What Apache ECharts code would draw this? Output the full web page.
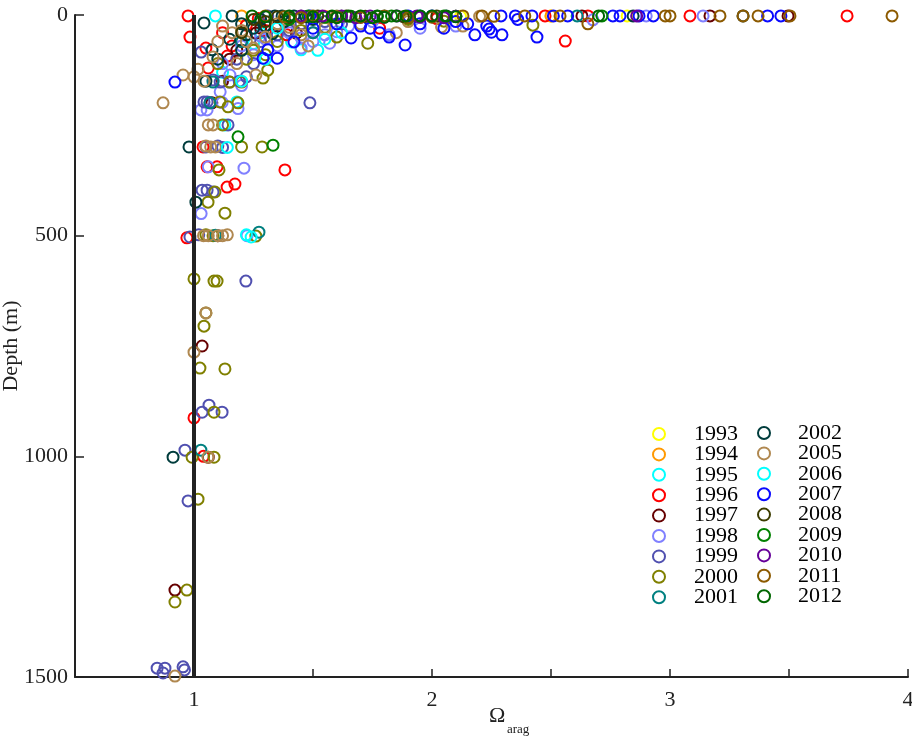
<!DOCTYPE html>
<html>
<head>
<meta charset="utf-8">
<script src="https://cdn.jsdelivr.net/npm/echarts@6/dist/echarts.min.js"></script>
<style>
  html, body { margin: 0; padding: 0; background: #fff; }
  #chart { width: 912px; height: 739px; }
</style>
</head>
<body>
<div id="chart"></div>
<script>
// Aragonite saturation state (x) against depth in metres (y), one series per survey year.
const years = ['1993','1994','1995','1996','1997','1998','1999','2000','2001',
               '2002','2005','2006','2007','2008','2009','2010','2011','2012'];

const colors = ['#ffff00','#ff9900','#00ffff','#ff0000','#660000','#8080ff','#5050b0','#808000','#008080',
                '#003c3c','#b08850','#00ffff','#0a0aff','#3c3c00','#008000','#660099','#8c5a00','#006600'];

const d1993 = [[2.82,2],[2.12,3],[2.5,2]];
const d1994 = [[1.2,2],[1.55,3],[2.5,2]];
const d1995 = [[1.09,2],[1.45,79],[1.52,80],[1.41,61],[1.18,197],[1.13,249],[1.6,3],[1.28,40],[1.12,130],
               [1.25,65]];
const d1996 = [[0.975,2],[0.983,50],[1.06,120],[1.22,23],[1.27,8],[1.39,45],[1.14,93],[1.16,70],[2.475,2],
               [2.655,2],[3.084,2],[3.744,2],[2.56,59],[1.382,351],[1.139,390],[1.172,383],[1.038,299],
               [1.055,344],[1.097,344],[0.97,505],[1.0,913],[1.04,1000],[1.78,30],[2.02,8],
               [1.12,40],[1.05,75],[1.3,35]];
const d1997 = [[3.168,2],[3.496,2],[2.63,2],[1.26,41],[1.28,30],[1.43,41],[1.075,199],[1.12,150],
               [1.034,750],[1.06,1002],[0.92,1303],[1.1,500],[1.7,5],[1.15,100],[1.2,60],[1.18,80],[1.35,25]];
const d1998 = [[3.139,2],[2.676,11],[2.9,2],[1.4,40],[1.45,52],[1.5,60],[1.55,45],[1.57,64],[1.35,70],
               [1.25,90],[1.151,136],[1.11,174],[1.185,212],[1.21,347],[1.029,215],[1.055,215],[1.118,198],
               [1.223,500],[1.06,344],[1.03,450],[1.82,45],[1.95,30],[2.1,25],[1.3,55],[1.2,160],[1.75,15],
               [1.2,70],[1.28,48],[1.65,25],[1.6,38],[1.12,110],[1.45,75]];
const d1999 = [[1.31,2],[1.55,15],[1.03,84],[1.08,147],[1.11,152],[1.15,152],[1.19,150],[1.22,140],
               [1.042,197],[1.055,197],[1.067,199],[1.487,199],[1.143,249],[1.05,299],[1.1,297],[1.12,300],
               [1.034,397],[1.055,397],[1.08,401],[0.983,503],[1.02,498],[1.218,603],[1.063,884],[1.034,900],
               [1.118,900],[0.962,986],[0.975,1101],[0.845,1480],[0.878,1480],[0.87,1491],[0.954,1477],
               [0.96,1484],[1.28,60],[1.4,35],[1.18,100],[1.25,110],[1.35,45],[1.5,40],[1.62,20],[1.45,20]];
const d2000 = [[1.286,299],[1.2,299],[1.26,501],[1.08,500],[1.05,498],[1.0,598],[1.084,603],[1.097,603],
               [1.05,675],[1.042,705],[1.025,800],[1.13,802],[1.084,900],[0.992,1002],[1.084,1002],
               [1.017,1097],[0.97,1303],[0.92,1330],[1.105,351],[1.088,401],[1.059,424],[1.13,449],
               [1.109,197],[1.185,199],[1.143,208],[1.29,143],[1.31,125],[1.15,152],[1.2,152],[2.424,23],
               [1.73,64],[1.6,50],[1.12,249],[1.1,110],[1.25,80],[1.22,100],[1.3,90],[1.35,60],[1.45,35],
               [1.55,28],[1.9,10],[2.05,14]];
const d2001 = [[2.61,2],[1.067,199],[1.08,152],[1.273,492],[1.029,986],[1.09,499],[1.5,40],[1.2,60]];
const d2002 = [[1.042,18],[1.16,2],[1.34,2],[1.37,2],[1.42,2],[1.47,4],[2.845,2],[3.307,2],[1.2,20],
               [1.25,30],[1.3,25],[1.33,42],[1.22,45],[1.076,79],[1.1,100],[0.979,299],[1.008,424],
               [0.912,1002],[1.05,150],[1.15,55],[1.28,10],[1.38,15],[1.5,10],[1.2,80]];
const d2005 = [[0.87,199],[0.954,136],[1.017,123],[1.0,140],[1.042,150],[1.06,249],[1.08,249],[1.05,297],
               [1.07,299],[1.09,299],[1.04,500],[1.06,500],[1.1,500],[1.12,500],[1.14,498],[1.05,675],
               [1.0,764],[1.059,1002],[0.92,1498],[1.16,40],[1.22,60],[1.3,50],[1.48,70],[1.6,2],
               [2.04,27],[2.13,25],[1.85,40],[2.2,3],[1.26,136],[1.1,60],[1.12,25],[1.2,35],[1.35,20],
               [1.4,28],[1.18,110],[1.08,95],[1.25,75],[1.55,30],[1.7,20],[1.9,15],[1.45,45]];
const d2006 = [[1.22,498],[1.24,503],[1.35,30],[1.95,2],[1.3,100],[1.2,150],[1.14,300],[1.62,40],[1.55,55]];
const d2007 = [[0.92,152],[1.487,2],[1.9,2],[2.0,2],[2.06,3],[2.29,2],[2.35,2],[2.42,2],[2.51,2],[2.57,2],
               [2.76,2],[2.79,2],[2.87,2],[2.93,2],[3.41,2],[3.466,2],[1.887,68],[2.23,25],[2.24,32],
               [2.25,39],[2.294,45],[2.441,50],[1.74,30],[1.78,40],[1.82,50],[1.66,52],[1.31,79],[1.29,98],
               [1.35,98],[1.42,61],[2.1,15],[2.15,20],[1.95,20],[2.36,10],[1.6,20],[1.7,25],[2.05,30],
               [2.18,45],[1.5,30]];
const d2008 = [[1.45,3],[1.52,2],[1.58,4],[1.64,2],[1.72,3],[1.8,2],[1.88,4],[2.02,2],[1.3,15],[1.2,40],
               [1.35,4],[1.95,3],[2.1,3],[1.25,10],[1.4,6]];
const d2009 = [[1.185,276],[1.332,295],[2.714,2],[1.62,3],[1.66,3],[1.77,3],[1.83,2],[1.94,3],[2.1,3],[1.4,10],
               [1.48,2],[1.55,5],[1.9,6],[2.05,2]];
const d2010 = [[1.54,2],[1.62,2],[1.74,2],[1.853,2],[1.937,2],[2.0,4],[2.1,3],[2.86,2],[1.68,6],
               [1.45,2],[1.8,5],[1.95,5],[2.05,6]];
const d2011 = [[1.3,2],[1.38,4],[1.6,4],[2.13,2],[2.21,2],[2.26,3],[2.39,2],[2.538,2],[2.655,20],[2.98,2],
               [3.0,2],[3.21,2],[3.307,2],[3.37,2],[3.504,2],[3.933,2],[1.9,6],[1.5,2],[1.7,5],[1.8,3],
               [2.0,5],[1.45,6]];
const d2012 = [[1.244,2],[1.5,4],[1.58,2],[1.65,2],[1.7,2],[1.77,2],[1.85,2],[1.89,2],[1.95,2],[2.0,2],
               [2.06,2],[2.7,2],[1.75,6],[1.3,4],[1.4,2],[1.6,6],[1.8,5],[2.1,4]];

const yearData = [d1993,d1994,d1995,d1996,d1997,d1998,d1999,d2000,d2001,
                  d2002,d2005,d2006,d2007,d2008,d2009,d2010,d2011,d2012];

// Saturation horizon reference (Omega = 1)
const omegaOne = [[1, 0], [1, 1500]];

const xTicks = [1, 2, 3, 4];
const yTicks = [0, 500, 1000, 1500];

const FONT = 'Liberation Serif';
const INK = '#222';

const chart = echarts.init(document.getElementById('chart'), null, { renderer: 'canvas' });

const series = years.map((y, i) => ({
  name: y,
  type: 'scatter',
  data: yearData[i],
  symbol: 'circle',
  symbolSize: 11,
  clip: false,
  itemStyle: { color: 'rgba(255,255,255,0)', borderColor: colors[i], borderWidth: 2, opacity: 1 }
}));

series.push({
  name: 'omega1',
  type: 'line',
  data: omegaOne,
  symbol: 'none',
  lineStyle: { color: INK, width: 4 },
  z: 5
});

const legendBase = {
  orient: 'vertical',
  itemWidth: 12,
  itemHeight: 12,
  itemGap: -1.6,
  icon: 'circle',
  selectedMode: false,
  textStyle: { fontFamily: FONT, fontSize: 22, color: '#000', lineHeight: 20 }
};

chart.setOption({
  animation: false,
  backgroundColor: '#fff',
  grid: { left: 75, right: 4, top: 15, bottom: 62, containLabel: false, outerBoundsMode: 'none' },
  xAxis: {
    type: 'value',
    position: 'bottom',
    min: 0.5,
    max: 4,
    interval: 0.5,
    axisLine: { onZero: false, lineStyle: { color: INK, width: 2 } },
    axisTick: { inside: true, length: 8, lineStyle: { color: INK, width: 1.5 } },
    axisLabel: {
      fontFamily: FONT, fontSize: 22, color: INK, margin: 12,
      formatter: v => (xTicks.indexOf(v) >= 0 ? String(v) : '')
    },
    splitLine: { show: false }
  },
  yAxis: {
    type: 'value',
    inverse: true,
    min: 0,
    max: 1500,
    interval: 500,
    name: 'Depth (m)',
    nameLocation: 'middle',
    nameGap: 53,
    nameMoveOverlap: false,
    nameTextStyle: { fontFamily: FONT, fontSize: 22, color: INK },
    axisLine: { onZero: false, lineStyle: { color: INK, width: 2 } },
    axisTick: { inside: true, length: 9, lineStyle: { color: INK, width: 1.5 } },
    axisLabel: {
      fontFamily: FONT, fontSize: 22, color: INK, margin: 7,
      formatter: v => (yTicks.indexOf(v) >= 0 ? String(v) : '')
    },
    splitLine: { show: false }
  },
  legend: [
    Object.assign({}, legendBase, {
      left: 647, top: 418, data: years.slice(0, 9),
      textStyle: Object.assign({}, legendBase.textStyle, { padding: [0, 0, 0, 24] })
    }),
    Object.assign({}, legendBase, {
      left: 752, top: 417, data: years.slice(9),
      textStyle: Object.assign({}, legendBase.textStyle, { padding: [0, 0, 0, 23] })
    })
  ],
  graphic: [
    { type: 'text', left: 489, top: 705, style: { text: 'Ω', font: '22px "Liberation Serif"', fill: INK } },
    { type: 'text', left: 507, top: 723, style: { text: 'arag', font: '13px "Liberation Serif"', fill: INK } }
  ],
  series: series
});
</script>
</body>
</html>
